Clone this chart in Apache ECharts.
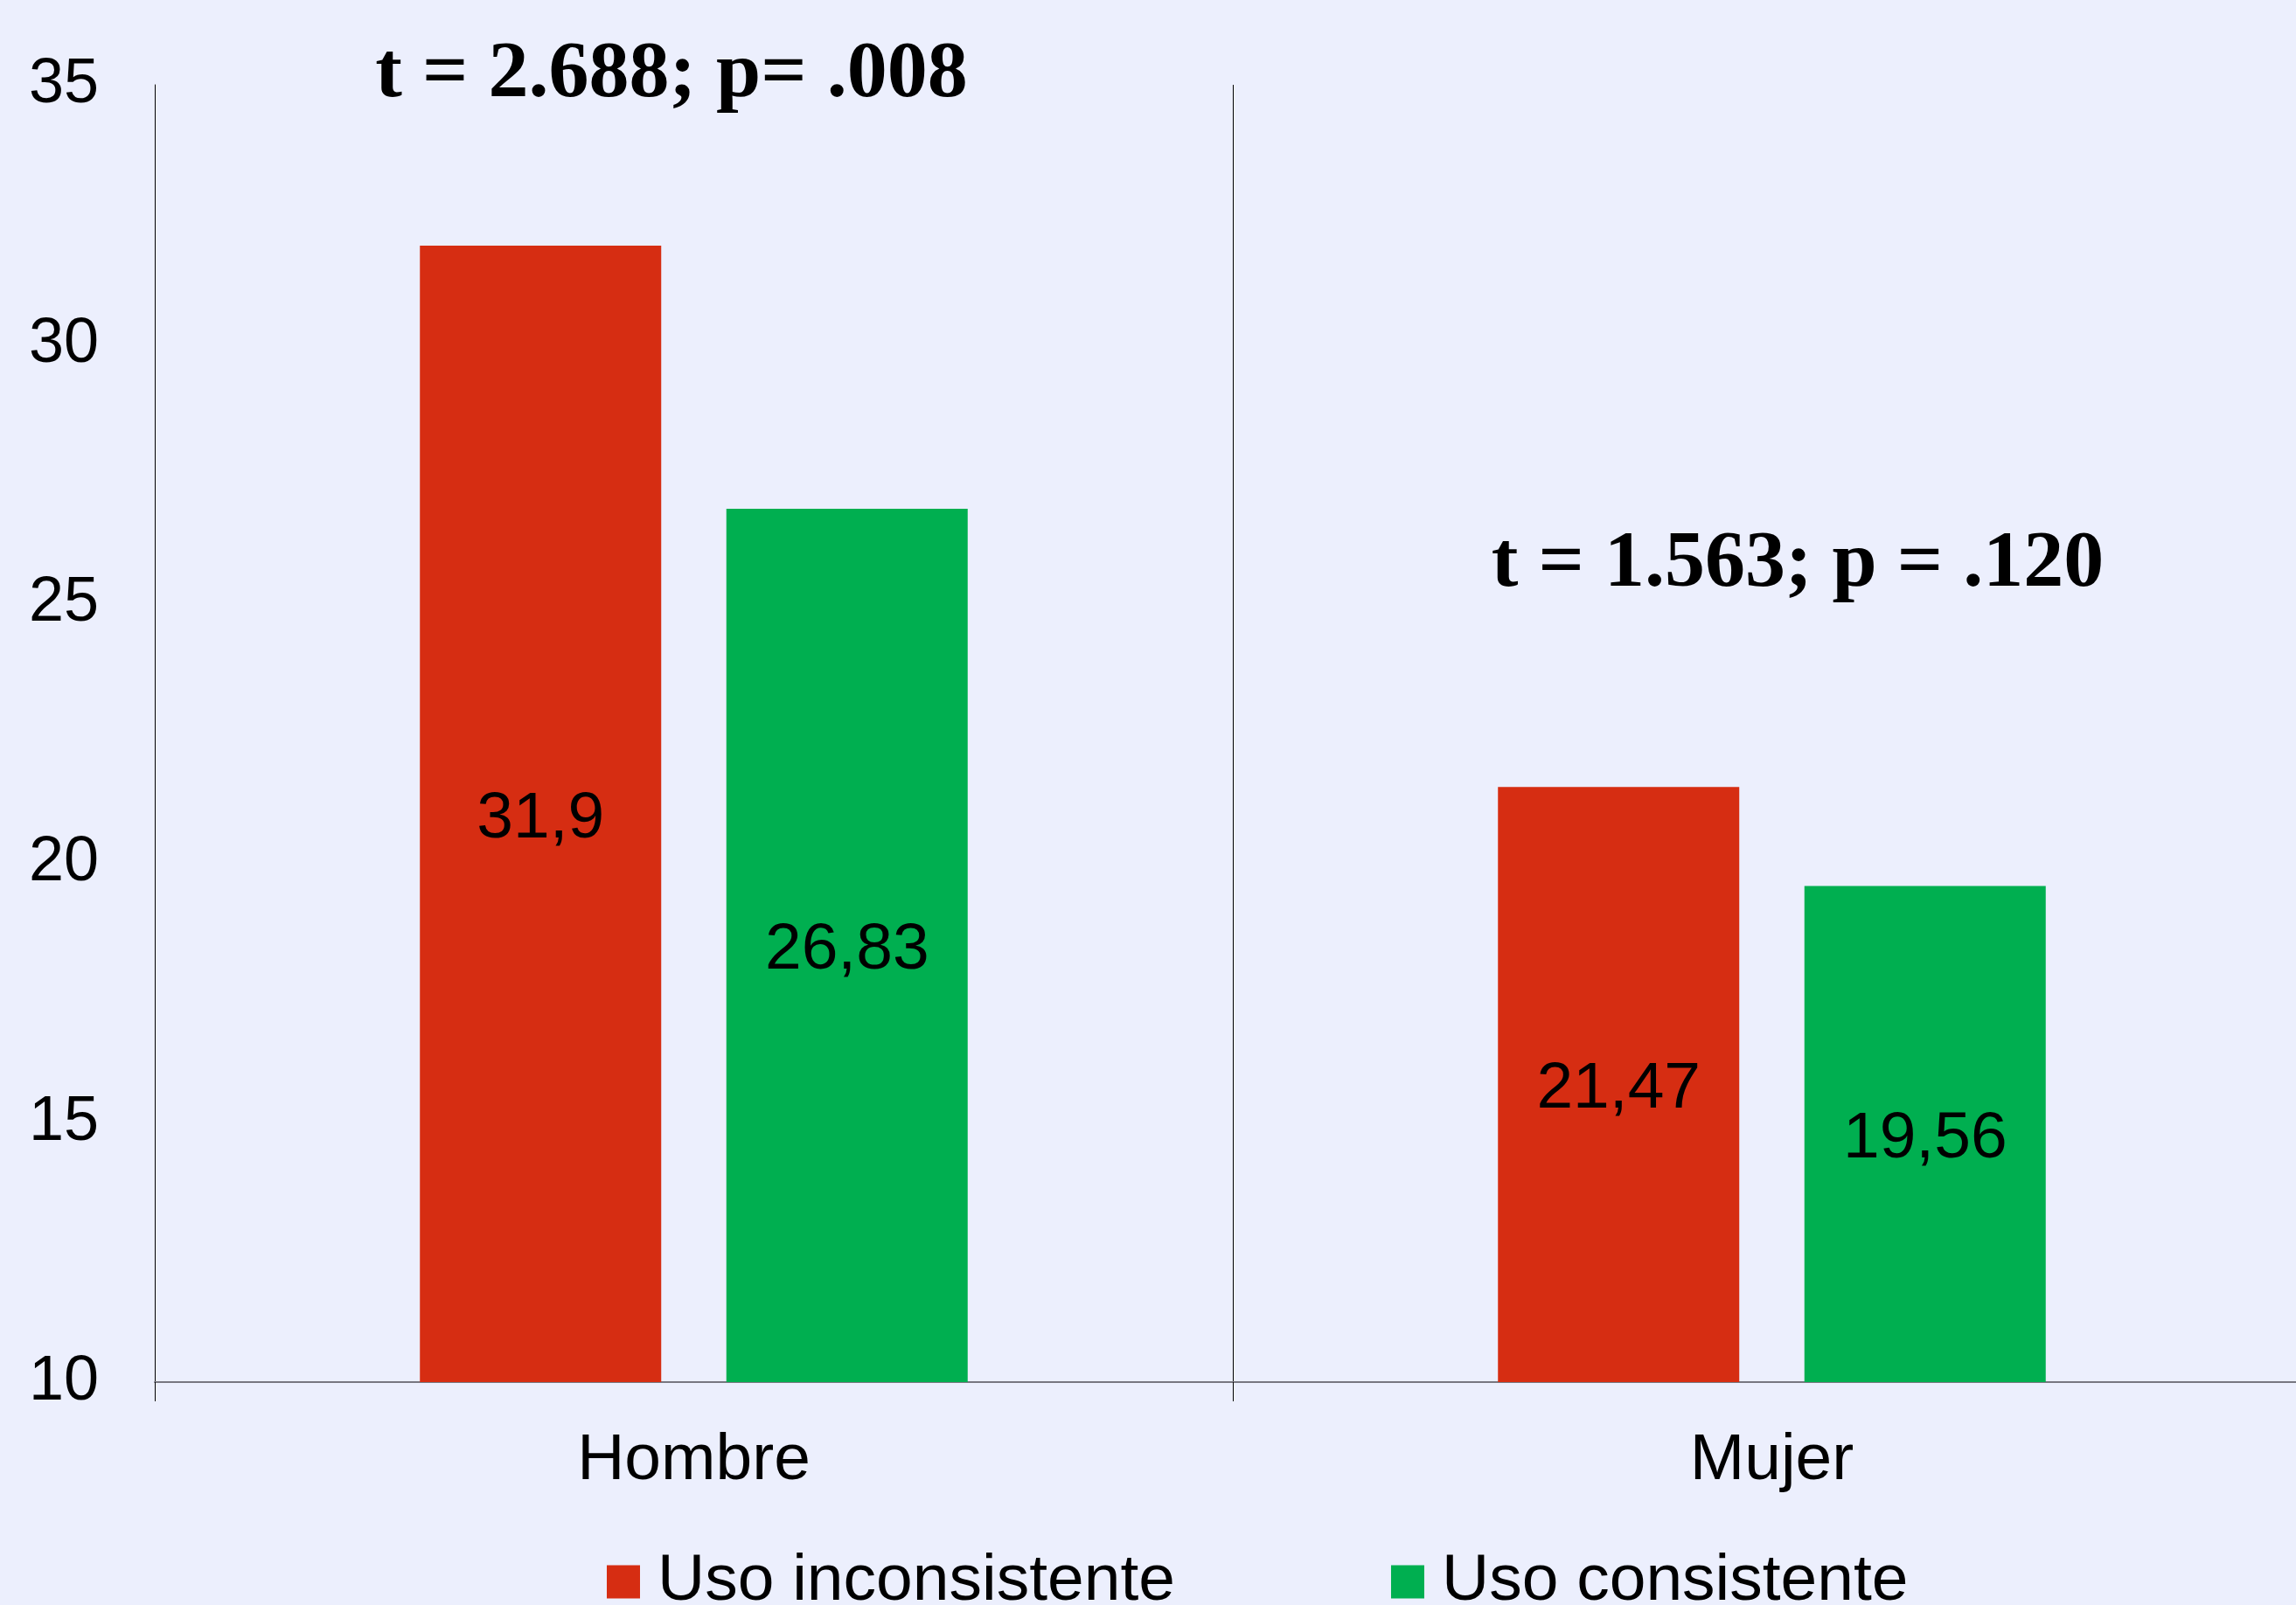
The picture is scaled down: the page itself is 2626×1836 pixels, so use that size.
<!DOCTYPE html>
<html><head><meta charset="utf-8">
<script src="https://cdn.jsdelivr.net/npm/echarts@6/dist/echarts.min.js"></script>
<style>html,body{margin:0;padding:0;background:#ECEFFD;}#c{width:2626px;height:1836px;}</style>
</head><body><div id="c"></div>
<script>
const categories = ['Hombre', 'Mujer'];
const seriesNames = ['Uso inconsistente', 'Uso consistente'];
const inconsistente = [31.9, 21.47];
const consistente = [26.83, 19.56];
const yTicks = { min: 10, max: 35, interval: 5 };
const annotations = ['t = 2.688; p= .008', 't = 1.563; p = .120'];

const SANS = '"Liberation Sans", Arial, sans-serif';
const SERIF = '"Liberation Serif", "Times New Roman", serif';
const chart = echarts.init(document.getElementById('c'));
const fmt = p => String(p.value).replace('.', ',');
chart.setOption({
  backgroundColor: '#ECEFFD',
  animation: false,
  grid: { left: 177, top: 97, width: 2466, bottom: 255, outerBoundsMode: 'none', containLabel: false },
  legend: {
    data: seriesNames, left: 694, top: 1772, icon: 'rect', padding: 0,
    itemWidth: 38, itemHeight: 38, itemGap: 247,
    textStyle: { fontFamily: SANS, fontSize: 75, color: '#000', padding: [0, 0, 0, 15] }
  },
  xAxis: {
    type: 'category', data: categories,
    axisLine: { lineStyle: { color: '#777780', width: 2 } },
    axisTick: { show: true, length: 22, lineStyle: { color: '#000', width: 1 } },
    splitLine: { show: true, lineStyle: { color: '#000', width: 1 } },
    axisLabel: { fontFamily: SANS, fontSize: 75, color: '#000', margin: 53 }
  },
  yAxis: {
    type: 'value', min: yTicks.min, max: yTicks.max, interval: yTicks.interval,
    axisLine: { show: true, lineStyle: { color: '#000', width: 1 } },
    axisTick: { show: false },
    splitLine: { show: false },
    axisLabel: { fontFamily: SANS, fontSize: 72, color: '#000', margin: 64 }
  },
  series: [
    { name: seriesNames[0], type: 'bar', data: inconsistente, barWidth: 276, barGap: '27%',
      itemStyle: { color: '#D62D12' },
      label: { show: true, position: 'inside', offset: [0, 6], formatter: fmt, fontFamily: SANS, fontSize: 75, color: '#000' } },
    { name: seriesNames[1], type: 'bar', data: consistente, barWidth: 276,
      itemStyle: { color: '#00AF50' },
      label: { show: true, position: 'inside', offset: [0, 6], formatter: fmt, fontFamily: SANS, fontSize: 75, color: '#000' } }
  ],
  graphic: [
    { type: 'text', x: 768, y: 86, style: { text: annotations[0], font: 'bold 92px ' + SERIF, fill: '#000', align: 'center', verticalAlign: 'middle' } },
    { type: 'text', x: 2056, y: 646, style: { text: annotations[1], font: 'bold 92px ' + SERIF, fill: '#000', align: 'center', verticalAlign: 'middle' } }
  ]
});
</script></body></html>
